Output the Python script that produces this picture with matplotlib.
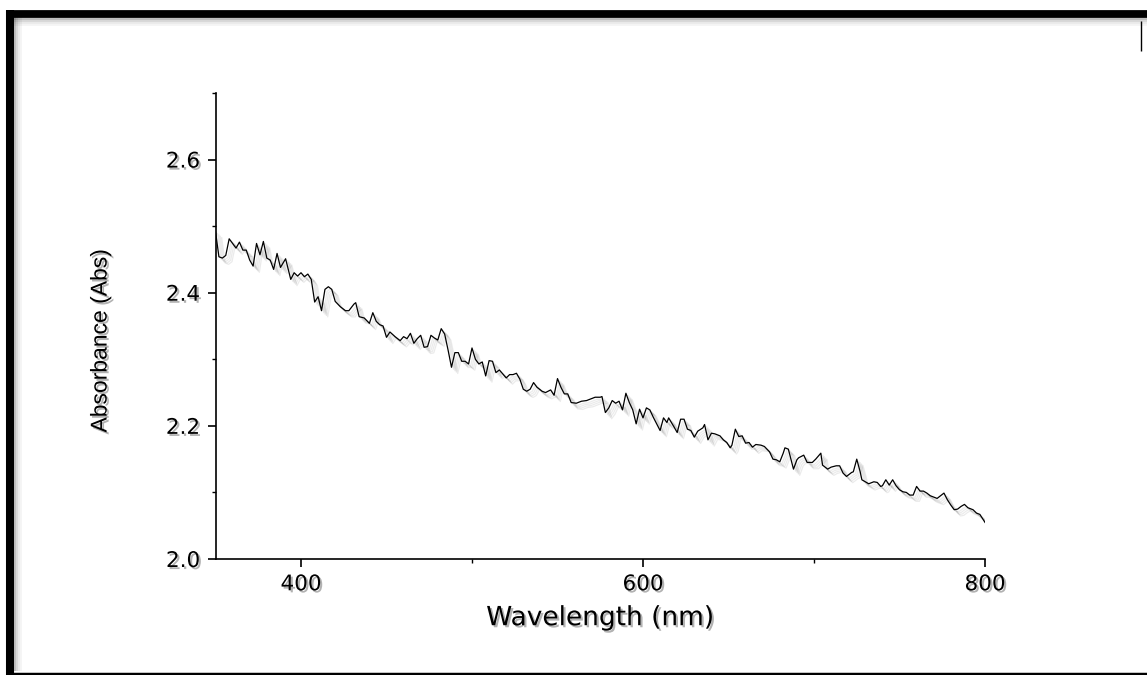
import numpy as np
import matplotlib
matplotlib.use("Agg")
import matplotlib.pyplot as plt
import matplotlib.patheffects as pe
from matplotlib.lines import Line2D

# spectrum
wavelength = [350, 352, 354, 356, 358, 360, 362, 364, 366, 368, 370, 372, 374, 376, 378,
              380, 382, 384, 386, 388, 391, 394, 396, 398, 400, 402, 404, 406, 408, 410,
              412, 414, 416, 418, 420, 423, 426, 428, 431, 432, 434, 437, 440, 442, 444,
              446, 448, 450, 452, 455, 458, 460, 462, 464, 466, 468, 470, 472, 474, 476,
              478, 480, 482, 484, 486, 488, 490, 492, 494, 496, 498, 500, 502, 504, 506,
              508, 510, 512, 514, 516, 518, 520, 522, 524, 526, 528, 530, 532, 534, 536,
              538, 541, 543, 546, 548, 550, 552, 554, 556, 558, 561, 564, 567, 569, 572,
              575, 576, 578, 580, 582, 584, 586, 588, 590, 592, 594, 596, 598, 600, 602,
              604, 606, 608, 610, 612, 614, 615, 618, 620, 622, 624, 626, 628, 630, 632,
              635, 636, 638, 640, 642, 645, 647, 649, 651, 652, 654, 656, 658, 660, 662,
              664, 666, 669, 671, 674, 676, 678, 680, 682, 683, 685, 688, 690, 691, 694,
              696, 699, 701, 704, 705, 708, 710, 713, 715, 717, 719, 722, 723, 725, 727,
              728, 730, 732, 735, 737, 739, 740, 742, 744, 746, 748, 750, 752, 754, 756,
              758, 760, 762, 764, 766, 768, 770, 772, 774, 776, 778, 780, 782, 784, 786,
              788, 790, 793, 795, 797, 800]
absorbance = [2.492, 2.454, 2.452, 2.456, 2.481, 2.474, 2.467, 2.476, 2.464, 2.464, 2.449, 2.440, 2.474, 2.457, 2.477,
              2.452, 2.449, 2.435, 2.459, 2.438, 2.451, 2.420, 2.430, 2.425, 2.430, 2.424, 2.428, 2.420, 2.386, 2.394,
              2.373, 2.405, 2.409, 2.405, 2.387, 2.379, 2.373, 2.373, 2.383, 2.385, 2.364, 2.362, 2.354, 2.370, 2.357,
              2.352, 2.350, 2.333, 2.341, 2.334, 2.328, 2.334, 2.331, 2.339, 2.324, 2.331, 2.336, 2.318, 2.319, 2.336,
              2.332, 2.329, 2.346, 2.338, 2.314, 2.288, 2.310, 2.310, 2.297, 2.297, 2.293, 2.317, 2.300, 2.293, 2.296,
              2.275, 2.298, 2.297, 2.280, 2.284, 2.278, 2.272, 2.277, 2.277, 2.279, 2.270, 2.255, 2.252, 2.255, 2.265,
              2.258, 2.252, 2.250, 2.254, 2.246, 2.271, 2.258, 2.248, 2.248, 2.235, 2.234, 2.237, 2.238, 2.240, 2.243,
              2.243, 2.244, 2.220, 2.227, 2.238, 2.234, 2.237, 2.224, 2.249, 2.235, 2.224, 2.203, 2.225, 2.212, 2.227,
              2.224, 2.213, 2.203, 2.193, 2.212, 2.205, 2.212, 2.199, 2.190, 2.210, 2.210, 2.195, 2.193, 2.183, 2.192,
              2.197, 2.202, 2.179, 2.189, 2.188, 2.185, 2.179, 2.175, 2.167, 2.171, 2.195, 2.184, 2.185, 2.174, 2.175,
              2.168, 2.172, 2.171, 2.169, 2.161, 2.150, 2.149, 2.146, 2.159, 2.167, 2.165, 2.135, 2.149, 2.152, 2.156,
              2.145, 2.145, 2.150, 2.159, 2.141, 2.135, 2.138, 2.140, 2.140, 2.129, 2.124, 2.130, 2.131, 2.150, 2.131,
              2.119, 2.116, 2.113, 2.116, 2.115, 2.109, 2.110, 2.119, 2.111, 2.119, 2.110, 2.104, 2.101, 2.100, 2.096,
              2.096, 2.109, 2.102, 2.102, 2.099, 2.095, 2.093, 2.091, 2.095, 2.099, 2.089, 2.081, 2.074, 2.075, 2.079,
              2.082, 2.077, 2.074, 2.069, 2.067, 2.055]

x_ticks = [400, 600, 800]
y_ticks = [2.0, 2.2, 2.4, 2.6]

W, H = 1147, 675


def px(x, y):
    # pixel position (top-left origin) -> figure fraction
    return x / W, 1 - y / H


def frame_line(fig, p0, p1, **kw):
    fig.add_artist(Line2D(*zip(px(*p0), px(*p1)), solid_capstyle="butt", **kw))


def main():
    fig = plt.figure(figsize=(W / 100, H / 100), dpi=100)
    ax = fig.add_axes([215.5 / W, 116 / H, 769.5 / W, 466 / H])

    shadow = [pe.SimpleLineShadow(offset=(d, -d), shadow_color="k", alpha=0.08)
              for d in (1.5, 2.5, 3.5, 4.5)]
    ax.plot(wavelength, absorbance, color="k", lw=0.9,
            path_effects=shadow + [pe.Normal()])

    ax.set_xlim(350, 800)
    ax.set_ylim(2.0, 2.7)
    ax.set_xticks(x_ticks)
    ax.set_xticks([500, 700], minor=True)
    ax.set_yticks(y_ticks)
    ax.set_yticks([2.1, 2.3, 2.5, 2.7], minor=True)
    ax.yaxis.set_major_formatter(matplotlib.ticker.FormatStrFormatter("%.1f"))

    for s in ["top", "right"]:
        ax.spines[s].set_visible(False)
    for s in ["left", "bottom"]:
        ax.spines[s].set_linewidth(1.2)
    ax.tick_params(which="major", direction="out", length=6, width=1.2, pad=5,
                   labelsize=15.5)
    ax.tick_params(which="minor", direction="out", length=3, width=1.0)

    txt_shadow = [pe.withSimplePatchShadow(offset=(1.5, -1.5), shadow_rgbFace="k", alpha=0.3)]
    for lab in ax.get_xticklabels() + ax.get_yticklabels():
        lab.set_family("DejaVu Sans")
        lab.set_path_effects(txt_shadow)

    ax.set_xlabel("Wavelength (nm)", fontsize=19, family="DejaVu Sans", va="center",
                  path_effects=txt_shadow)
    ax.xaxis.set_label_coords(0.5, -0.127)
    ax.set_ylabel("Absorbance (Abs)", fontsize=16.5, va="center",
                  family="Liberation Sans", path_effects=txt_shadow)
    ax.yaxis.set_label_coords(-0.150, 0.468)

    # black frame round the picture
    frame_line(fig, (6, 13.5), (W, 13.5), color="k", lw=5.6)
    frame_line(fig, (10, 10), (10, H), color="k", lw=5.8)
    frame_line(fig, (6, 673.5), (W, 673.5), color="k", lw=2.5)
    for i, a in enumerate([0.25, 0.15, 0.08, 0.04]):
        frame_line(fig, (14, 18.5 + 2 * i), (W, 18.5 + 2 * i), color="k", lw=1.5, alpha=a)
        frame_line(fig, (15 + 2 * i, 17), (15 + 2 * i, 671), color="k", lw=1.5, alpha=a)
    frame_line(fig, (1141, 21), (1141, 51), color="k", lw=1.0)

    fig.savefig("out.png", dpi=100)


if __name__ == '__main__':
    main()
